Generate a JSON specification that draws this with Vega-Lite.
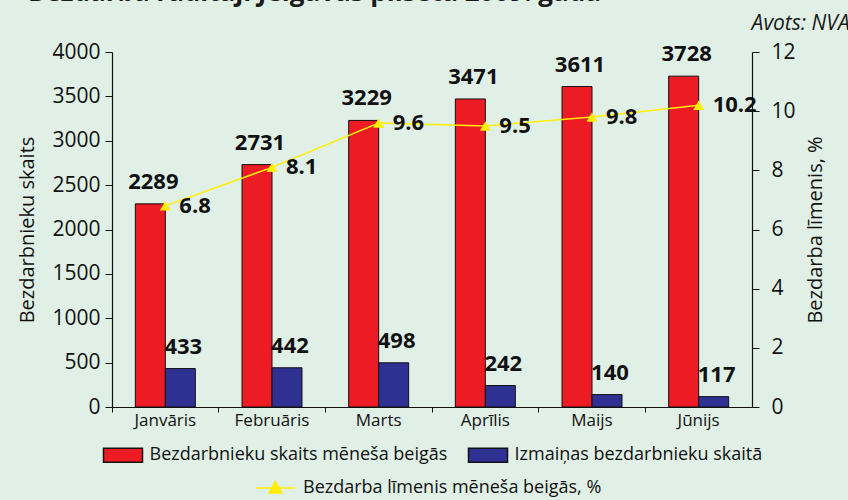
{
  "$schema": "https://vega.github.io/schema/vega-lite/v6.json",
  "width": 640,
  "height": 355,
  "autosize": {"type": "none"},
  "padding": {"left": 112, "top": 52, "right": 96, "bottom": 93},
  "background": "#e1f0e6",
  "config": {
    "view": {"stroke": null},
    "font": "Open Sans",
    "axis": {"grid": false, "domainColor": "#111", "tickColor": "#111", "labelColor": "#111", "titleColor": "#111", "labelFont": "Open Sans", "titleFont": "Open Sans", "titleFontWeight": "normal"},
    "legend": {"labelFont": "Open Sans", "labelColor": "#111"}
  },
  "title": {
    "text": "Bezdarba rādītāji Jelgavas pilsētā 2009. gadā",
    "anchor": "start",
    "frame": "bounds",
    "fontSize": 26,
    "fontWeight": "bold",
    "color": "#1a1a1a",
    "dx": 10,
    "dy": -3
  },
  "datasets": {
    "bars": [
      {"month": "Janvāris", "series": "Bezdarbnieku skaits mēneša beigās", "value": 2289},
      {"month": "Janvāris", "series": "Izmaiņas bezdarbnieku skaitā", "value": 433},
      {"month": "Februāris", "series": "Bezdarbnieku skaits mēneša beigās", "value": 2731},
      {"month": "Februāris", "series": "Izmaiņas bezdarbnieku skaitā", "value": 442},
      {"month": "Marts", "series": "Bezdarbnieku skaits mēneša beigās", "value": 3229},
      {"month": "Marts", "series": "Izmaiņas bezdarbnieku skaitā", "value": 498},
      {"month": "Aprīlis", "series": "Bezdarbnieku skaits mēneša beigās", "value": 3471},
      {"month": "Aprīlis", "series": "Izmaiņas bezdarbnieku skaitā", "value": 242},
      {"month": "Maijs", "series": "Bezdarbnieku skaits mēneša beigās", "value": 3611},
      {"month": "Maijs", "series": "Izmaiņas bezdarbnieku skaitā", "value": 140},
      {"month": "Jūnijs", "series": "Bezdarbnieku skaits mēneša beigās", "value": 3728},
      {"month": "Jūnijs", "series": "Izmaiņas bezdarbnieku skaitā", "value": 117}
    ],
    "rate": [
      {"month": "Janvāris", "rate": 6.8},
      {"month": "Februāris", "rate": 8.1},
      {"month": "Marts", "rate": 9.6},
      {"month": "Aprīlis", "rate": 9.5},
      {"month": "Maijs", "rate": 9.8},
      {"month": "Jūnijs", "rate": 10.2}
    ],
    "note": [{"note": "Avots: NVA"}]
  },
  "encoding": {
    "x": {
      "field": "month",
      "type": "nominal",
      "sort": ["Janvāris", "Februāris", "Marts", "Aprīlis", "Maijs", "Jūnijs"],
      "scale": {"paddingInner": 0, "paddingOuter": 0},
      "axis": {"title": null, "labelAngle": 0, "labelFontSize": 17, "tickSize": 5, "labelPadding": 0, "bandPosition": 0, "domainWidth": 1.2}
    }
  },
  "layer": [
    {
      "data": {"name": "bars"},
      "encoding": {
        "xOffset": {"field": "series", "type": "nominal", "scale": {"paddingOuter": 0.778, "paddingInner": 0}},
        "y": {
          "field": "value",
          "type": "quantitative",
          "scale": {"domain": [0, 4000], "nice": false},
          "axis": {"title": "Bezdarbnieku skaits", "titleFontSize": 20, "labelFontSize": 21, "format": "d", "values": [0, 500, 1000, 1500, 2000, 2500, 3000, 3500, 4000], "tickSize": 7, "labelPadding": 5, "titlePadding": 14, "domainWidth": 1.2}
        }
      },
      "layer": [
        {
          "mark": {"type": "bar", "stroke": "#111", "strokeWidth": 1},
          "encoding": {
            "fill": {
              "field": "series",
              "type": "nominal",
              "scale": {"domain": ["Bezdarbnieku skaits mēneša beigās", "Izmaiņas bezdarbnieku skaitā"], "range": ["#ed1c24", "#2e3192"]},
              "legend": {
                "title": null,
                "orient": "none",
                "legendX": -9.5,
                "legendY": 382.5,
                "direction": "horizontal",
                "columns": 2,
                "columnPadding": 18,
                "labelFontSize": 18,
                "labelLimit": 0,
                "labelOffset": 6,
                "symbolType": "M-1,-0.36H1V0.36H-1Z",
                "symbolSize": 1521,
                "symbolStrokeColor": "#111",
                "symbolStrokeWidth": 1.5,
                "padding": 0
              }
            }
          }
        },
        {
          "mark": {"type": "text", "baseline": "alphabetic", "dy": -15, "dx": 3, "fontSize": 22, "fontWeight": "bold", "color": "#111"},
          "encoding": {"text": {"field": "value", "type": "quantitative"}}
        }
      ]
    },
    {
      "data": {"name": "rate"},
      "encoding": {
        "y": {
          "field": "rate",
          "type": "quantitative",
          "scale": {"domain": [0, 12], "nice": false},
          "axis": {"orient": "right", "title": "Bezdarba līmenis, %", "titleAngle": -90, "titleFontSize": 20, "labelFontSize": 21, "values": [0, 2, 4, 6, 8, 10, 12], "tickSize": 7, "labelPadding": 12, "titlePadding": 30, "domainWidth": 1.2}
        }
      },
      "layer": [
        {
          "mark": {"type": "line", "strokeWidth": 1.5},
          "encoding": {
            "stroke": {
              "datum": "Bezdarba līmenis mēneša beigās, %",
              "type": "nominal",
              "scale": {"range": ["#ffee00"]},
              "legend": {
                "title": null,
                "orient": "none",
                "legendX": 143,
                "legendY": 415.5,
                "labelFontSize": 18,
                "labelLimit": 0,
                "labelOffset": 7,
                "symbolType": "M-1,0H1M0,-0.33L0.33,0.25H-0.33Z",
                "symbolSize": 1521,
                "symbolFillColor": "#ffee00",
                "symbolStrokeWidth": 1.5,
                "padding": 0
              }
            }
          }
        },
        {
          "mark": {"type": "point", "shape": "triangle-up", "filled": true, "size": 120, "color": "#ffee00", "opacity": 1}
        },
        {
          "mark": {"type": "text", "align": "left", "baseline": "middle", "dx": 14, "fontSize": 22, "fontWeight": "bold", "color": "#111"},
          "encoding": {"text": {"field": "rate", "type": "quantitative", "format": ".1f"}}
        }
      ]
    },
    {
      "data": {"name": "note"},
      "mark": {"type": "text", "align": "right", "baseline": "middle", "dx": 151, "fontSize": 21, "fontStyle": "italic", "color": "#1a1a1a"},
      "encoding": {
        "x": {"datum": "Jūnijs"},
        "y": {"datum": 12.95, "type": "quantitative", "scale": {"domain": [0, 12], "nice": false}, "axis": null},
        "text": {"field": "note"}
      }
    }
  ],
  "resolve": {"scale": {"y": "independent"}}
}
